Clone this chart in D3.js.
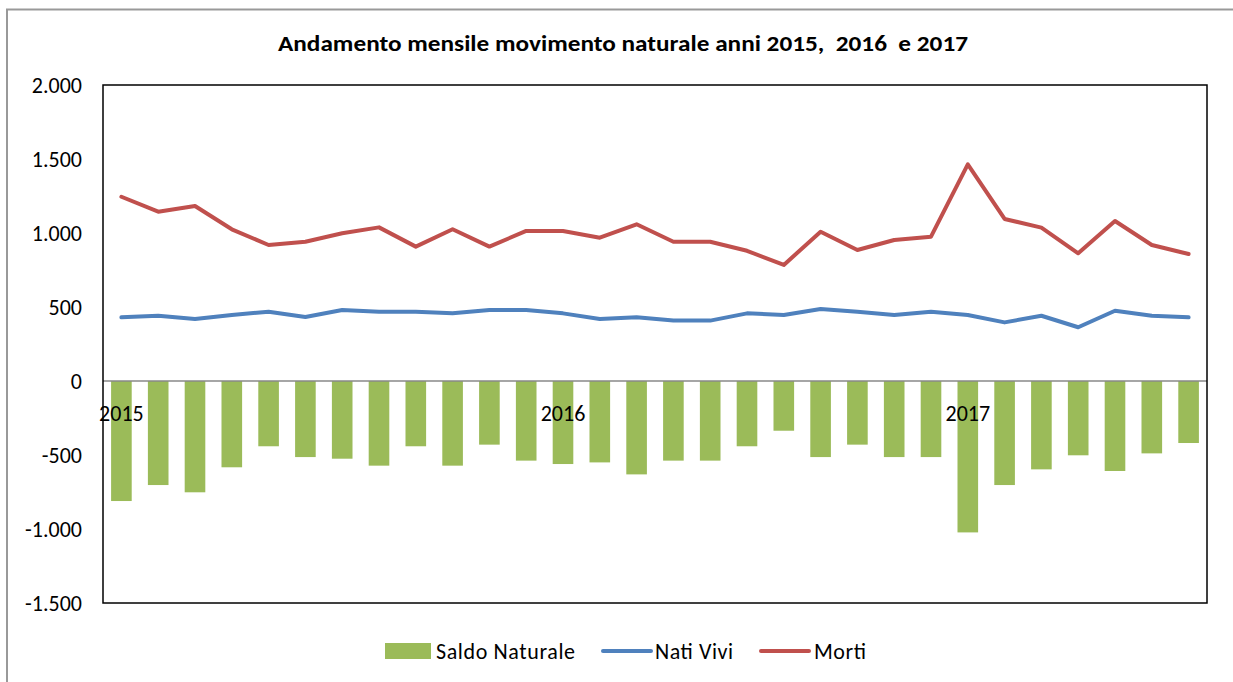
<!DOCTYPE html>
<html>
<head>
<meta charset="utf-8">
<script src="https://cdn.jsdelivr.net/npm/d3@7"></script>
<style>
  body { margin: 0; background: #fff; }
  svg { display: block; font-family: Carlito, Calibri, Lato, sans-serif; }
</style>
</head>
<body>
<div id="chart"></div>
<script>
const width = 1233;
const height = 682;

// monthly values, 2015 -> mid 2017
const saldo = [-811, -703, -752, -583, -441, -514, -525, -572, -441, -572, -430, -538,
               -561, -550, -631, -538, -538, -441, -336, -514, -430, -514, -514, -1023,
               -703, -597, -502, -608, -489, -419];
const nati = [430, 441, 419, 446, 468, 432, 480, 468, 468, 457, 480, 480,
              457, 419, 430, 408, 408, 457, 446, 486, 468, 446, 468, 446,
              396, 441, 363, 475, 441, 430];
const morti = [1245, 1144, 1182, 1025, 919, 941, 998, 1038, 908, 1025, 908, 1014,
               1014, 968, 1059, 941, 941, 880, 784, 1009, 885, 953, 975, 1464,
               1095, 1036, 863, 1081, 919, 858];
const catLabels = ["2015", "", "", "", "", "", "", "", "", "", "", "",
                   "2016", "", "", "", "", "", "", "", "", "", "", "2017",
                   "", "", "", "", "", ""];
const yTicks = [-1500, -1000, -500, 0, 500, 1000, 1500, 2000];

const seriesNames = ["Saldo Naturale", "Nati Vivi", "Morti"];
const green = '#9BBB59';
const blue = '#4F81BD';
const red = '#C0504D';

const plot = {left: 103, right: 1207, top: 85, bottom: 603};
const fontSize = 22;

var svg = d3.select('#chart')
            .append('svg')
            .attr('width', width)
            .attr('height', height);

// outer chart frame (runs off the right/bottom edge)
svg.append('rect')
   .attr('x', 7).attr('y', 9.5)
   .attr('width', 1240).attr('height', 690)
   .attr('fill', 'none')
   .attr('stroke', '#999')
   .attr('stroke-width', 2);

svg.append('text')
   .attr('x', 623).attr('y', 51)
   .attr('text-anchor', 'middle')
   .attr('font-weight', 'bold')
   .attr('font-size', fontSize)
   .attr('fill', '#000')
   .attr('textLength', 690)
   .attr('lengthAdjust', 'spacingAndGlyphs')
   .style('white-space', 'pre')
   .text('Andamento mensile movimento naturale anni 2015,  2016  e 2017');

var xScale = d3.scaleBand()
               .domain(d3.range(saldo.length))
               .range([plot.left, plot.right])
               .paddingInner(0.44)
               .paddingOuter(0.22);
var yScale = d3.scaleLinear()
               .domain([-1500, 2000])
               .range([plot.bottom, plot.top]);

var fmt = function(v){
    return d3.format(',')(v).replace(/,/g, '.').replace('−', '-');
};

// y labels
svg.append('g')
   .selectAll('text')
   .data(yTicks)
   .enter()
   .append('text')
   .attr('x', 82)
   .attr('y', function(d){ return yScale(d); })
   .attr('dy', '0.35em')
   .attr('text-anchor', 'end')
   .attr('font-size', fontSize)
   .attr('fill', '#000')
   .text(fmt);

// bars
svg.append('g')
   .selectAll('rect')
   .data(saldo)
   .enter()
   .append('rect')
   .attr('x', function(d, i){ return xScale(i); })
   .attr('y', function(d){ return yScale(Math.max(0, d)); })
   .attr('width', xScale.bandwidth())
   .attr('height', function(d){ return Math.abs(yScale(d) - yScale(0)); })
   .attr('fill', green);

// zero line
svg.append('line')
   .attr('x1', plot.left).attr('x2', plot.right)
   .attr('y1', yScale(0)).attr('y2', yScale(0))
   .attr('stroke', '#888')
   .attr('stroke-width', 1.5);

// plot frame
svg.append('rect')
   .attr('x', plot.left).attr('y', plot.top)
   .attr('width', plot.right - plot.left)
   .attr('height', plot.bottom - plot.top)
   .attr('fill', 'none')
   .attr('stroke', '#000')
   .attr('stroke-width', 1.5);

// category labels sit just under the zero line
svg.append('g')
   .selectAll('text')
   .data(catLabels)
   .enter()
   .append('text')
   .attr('x', function(d, i){ return xScale(i) + xScale.bandwidth() / 2; })
   .attr('y', yScale(0) + 32)
   .attr('dy', '0.35em')
   .attr('text-anchor', 'middle')
   .attr('font-size', fontSize)
   .attr('fill', '#000')
   .text(function(d){ return d; });

var line = d3.line()
             .x(function(d, i){ return xScale(i) + xScale.bandwidth() / 2; })
             .y(function(d){ return yScale(d); });

svg.append('path')
   .datum(nati)
   .attr('d', line)
   .attr('fill', 'none')
   .attr('stroke', blue)
   .attr('stroke-width', 4)
   .attr('stroke-linejoin', 'round')
   .attr('stroke-linecap', 'round');

svg.append('path')
   .datum(morti)
   .attr('d', line)
   .attr('fill', 'none')
   .attr('stroke', red)
   .attr('stroke-width', 4)
   .attr('stroke-linejoin', 'round')
   .attr('stroke-linecap', 'round');

// legend
var lg = svg.append('g').attr('font-size', fontSize);
var legendY = 651;
lg.append('rect')
  .attr('x', 385).attr('y', legendY - 8)
  .attr('width', 46).attr('height', 16)
  .attr('fill', green);
lg.append('text').attr('x', 436).attr('y', legendY).attr('dy', '0.35em')
  .attr('textLength', 139).attr('lengthAdjust', 'spacing').text(seriesNames[0]);
lg.append('line')
  .attr('x1', 603).attr('x2', 651).attr('y1', legendY).attr('y2', legendY)
  .attr('stroke', blue).attr('stroke-width', 4).attr('stroke-linecap', 'round');
lg.append('text').attr('x', 655).attr('y', legendY).attr('dy', '0.35em')
  .attr('textLength', 78).attr('lengthAdjust', 'spacing').text(seriesNames[1]);
lg.append('line')
  .attr('x1', 761).attr('x2', 809).attr('y1', legendY).attr('y2', legendY)
  .attr('stroke', red).attr('stroke-width', 4).attr('stroke-linecap', 'round');
lg.append('text').attr('x', 814).attr('y', legendY).attr('dy', '0.35em')
  .attr('textLength', 52).attr('lengthAdjust', 'spacing').text(seriesNames[2]);
</script>
</body>
</html>
